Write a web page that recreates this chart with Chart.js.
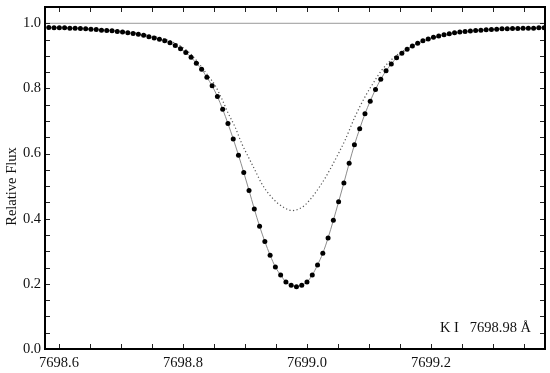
<!DOCTYPE html>
<html>
<head>
<meta charset="utf-8">
<script src="https://cdn.jsdelivr.net/npm/chart.js@4"></script>
<style>
    html, body { margin: 0; padding: 0; background: #fff; }
</style>
</head>
<body>
<canvas id="fluxChart" width="550" height="373"></canvas>
<script>
// Observed points (wavelength in Angstrom, relative flux)
const wavelength = [
    7698.5835, 7698.5920, 7698.6005, 7698.6090, 7698.6175, 7698.6260, 7698.6345, 7698.6430,
    7698.6515, 7698.6600, 7698.6685, 7698.6770, 7698.6855, 7698.6940, 7698.7025, 7698.7110,
    7698.7195, 7698.7280, 7698.7365, 7698.7450, 7698.7535, 7698.7620, 7698.7705, 7698.7790,
    7698.7875, 7698.7960, 7698.8045, 7698.8130, 7698.8215, 7698.8300, 7698.8385, 7698.8470,
    7698.8555, 7698.8640, 7698.8725, 7698.8810, 7698.8895, 7698.8980, 7698.9065, 7698.9150,
    7698.9235, 7698.9320, 7698.9405, 7698.9490, 7698.9575, 7698.9660, 7698.9745, 7698.9830,
    7698.9915, 7699.0000, 7699.0085, 7699.0170, 7699.0255, 7699.0340, 7699.0425, 7699.0510,
    7699.0595, 7699.0680, 7699.0765, 7699.0850, 7699.0935, 7699.1020, 7699.1105, 7699.1190,
    7699.1275, 7699.1360, 7699.1445, 7699.1530, 7699.1615, 7699.1700, 7699.1785, 7699.1870,
    7699.1955, 7699.2040, 7699.2125, 7699.2210, 7699.2295, 7699.2380, 7699.2465, 7699.2550,
    7699.2635, 7699.2720, 7699.2805, 7699.2890, 7699.2975, 7699.3060, 7699.3145, 7699.3230,
    7699.3315, 7699.3400, 7699.3485, 7699.3570, 7699.3655, 7699.3740, 7699.3825
];
const fluxObs = [
    0.987, 0.986, 0.986, 0.986, 0.985, 0.985, 0.984, 0.983,
    0.982, 0.981, 0.979, 0.978, 0.977, 0.975, 0.973, 0.971,
    0.969, 0.966, 0.963, 0.959, 0.955, 0.951, 0.946, 0.940,
    0.932, 0.922, 0.910, 0.896, 0.877, 0.859, 0.834, 0.808,
    0.775, 0.736, 0.692, 0.645, 0.595, 0.542, 0.487, 0.430,
    0.377, 0.330, 0.288, 0.252, 0.227, 0.206, 0.196, 0.191,
    0.196, 0.206, 0.227, 0.258, 0.294, 0.341, 0.395, 0.452,
    0.510, 0.570, 0.627, 0.676, 0.722, 0.761, 0.797, 0.828,
    0.854, 0.875, 0.894, 0.908, 0.920, 0.930, 0.939, 0.946,
    0.952, 0.957, 0.961, 0.965, 0.968, 0.971, 0.973, 0.975,
    0.976, 0.978, 0.979, 0.980, 0.981, 0.982, 0.983, 0.983,
    0.984, 0.984, 0.985, 0.985, 0.985, 0.986, 0.986
];

// Dotted profile
const dottedWave = [
    7698.5774, 7698.6339, 7698.6984, 7698.7468, 7698.7871, 7698.8113, 7698.8274, 7698.8400,
    7698.8516, 7698.8624, 7698.8731, 7698.8839, 7698.8947, 7698.9053, 7698.9161, 7698.9269,
    7698.9376, 7698.9537, 7698.9650, 7698.9758, 7698.9870, 7698.9968, 7699.0129, 7699.0290,
    7699.0452, 7699.0613, 7699.0774, 7699.0935, 7699.1097, 7699.1205, 7699.1419, 7699.1661,
    7699.1984, 7699.2468, 7699.3113, 7699.3839
];
const dottedFlux = [
    0.988, 0.984, 0.976, 0.962, 0.939, 0.908, 0.872, 0.840,
    0.810, 0.769, 0.723, 0.682, 0.631, 0.590, 0.549, 0.508,
    0.478, 0.446, 0.432, 0.425, 0.430, 0.442, 0.478, 0.524,
    0.580, 0.641, 0.713, 0.774, 0.825, 0.856, 0.898, 0.926,
    0.951, 0.972, 0.982, 0.986
];

// Continuum level
const continuumWave = [7698.5774, 7699.3839];
const continuumFlux = [1.0, 1.0];

// Axis ticks
const xTickLabels = [7698.6, 7698.8, 7699.0, 7699.2];
const yTickLabels = [0.0, 0.2, 0.4, 0.6, 0.8, 1.0];
const xMinorTicks = [7698.60, 7698.65, 7698.70, 7698.75, 7698.80, 7698.85, 7698.90, 7698.95,
    7699.00, 7699.05, 7699.10, 7699.15, 7699.20, 7699.25, 7699.30, 7699.35];
const yMinorTicks = [0.05, 0.10, 0.15, 0.20, 0.25, 0.30, 0.35, 0.40, 0.45, 0.50,
    0.55, 0.60, 0.65, 0.70, 0.75, 0.80, 0.85, 0.90, 0.95, 1.00];
const yTitle = 'Relative Flux';
const lineLabel = 'K I   7698.98 Å';

const serif = '"Liberation Serif", "DejaVu Serif", serif';

function toPoints(xs, ys) {
    return xs.map((x, i) => ({ x: x, y: ys[i] }));
}

// Frame, inward ticks on all four sides, axis title and the line label
const framePlugin = {
    id: 'frame',
    afterDraw(chart) {
        const ctx = chart.ctx;
        const { left, right, top, bottom } = chart.chartArea;
        const xs = chart.scales.x;
        const ys = chart.scales.y;
        ctx.save();
        ctx.strokeStyle = '#222';
        ctx.lineWidth = 1;
        ctx.beginPath();
        xMinorTicks.forEach(v => {
            const px = Math.round(xs.getPixelForValue(v)) + 0.5;
            ctx.moveTo(px, bottom); ctx.lineTo(px, bottom - 5);
            ctx.moveTo(px, top); ctx.lineTo(px, top + 5);
        });
        yMinorTicks.forEach(v => {
            const py = Math.round(ys.getPixelForValue(v)) + 0.5;
            ctx.moveTo(left, py); ctx.lineTo(left + 5, py);
            ctx.moveTo(right, py); ctx.lineTo(right - 5, py);
        });
        ctx.stroke();

        ctx.strokeStyle = '#000';
        ctx.lineWidth = 2;
        ctx.strokeRect(left, top, right - left, bottom - top);

        ctx.fillStyle = '#111';
        ctx.font = '14.5px ' + serif;
        ctx.textAlign = 'right';
        ctx.textBaseline = 'middle';
        ctx.fillText(lineLabel, right - 14, bottom - 21);

        // y title, centred on the whole canvas height like the original
        ctx.translate(12, chart.height / 2);
        ctx.rotate(-Math.PI / 2);
        ctx.textAlign = 'center';
        ctx.font = '14.5px ' + serif;
        ctx.fillText(yTitle, 0, 0);
        ctx.restore();
    }
};

const ctx = document.getElementById('fluxChart').getContext('2d');
const chart = new Chart(ctx, {
    type: 'line',
    data: {
        datasets: [{
            label: 'Observed',
            data: toPoints(wavelength, fluxObs),
            showLine: false,
            pointRadius: 2.5,
            pointBackgroundColor: '#000',
            pointBorderWidth: 0,
            order: 0
        }, {
            label: 'Fit',
            data: toPoints(wavelength, fluxObs),
            borderColor: '#8c8c8c',
            borderWidth: 1,
            pointRadius: 0,
            cubicInterpolationMode: 'monotone',
            order: 1
        }, {
            label: 'Profile',
            data: toPoints(dottedWave, dottedFlux),
            borderColor: '#555',
            borderWidth: 1.2,
            borderDash: [1.2, 2.4],
            pointRadius: 0,
            cubicInterpolationMode: 'monotone',
            order: 2
        }, {
            label: 'Continuum',
            data: toPoints(continuumWave, continuumFlux),
            borderColor: '#9a9a9a',
            borderWidth: 1,
            pointRadius: 0,
            order: 3
        }]
    },
    options: {
        responsive: false,
        animation: false,
        devicePixelRatio: 1,
        layout: { padding: { top: 7, right: 5, left: 0, bottom: 0 } },
        plugins: {
            legend: { display: false },
            tooltip: { enabled: false }
        },
        scales: {
            x: {
                type: 'linear',
                min: 7698.5774,
                max: 7699.3839,
                afterBuildTicks: s => { s.ticks = xTickLabels.map(v => ({ value: v })); },
                afterFit: s => { s.height = 24; s.paddingLeft = 0; s.paddingRight = 0; },
                grid: { display: false, drawTicks: false },
                border: { display: false },
                ticks: {
                    autoSkip: false,
                    maxRotation: 0,
                    padding: 5,
                    color: '#111',
                    font: { family: serif, size: 14.5 },
                    callback: v => Number(v).toFixed(1)
                }
            },
            y: {
                type: 'linear',
                min: 0,
                max: 1.05,
                afterBuildTicks: s => { s.ticks = yTickLabels.map(v => ({ value: v })); },
                afterFit: s => { s.width = 45; s.paddingTop = 0; s.paddingBottom = 0; },
                grid: { display: false, drawTicks: false },
                border: { display: false },
                ticks: {
                    autoSkip: false,
                    padding: 4,
                    color: '#111',
                    font: { family: serif, size: 14.5 },
                    callback: v => Number(v).toFixed(1)
                }
            }
        }
    },
    plugins: [framePlugin]
});
</script>
</body>
</html>
